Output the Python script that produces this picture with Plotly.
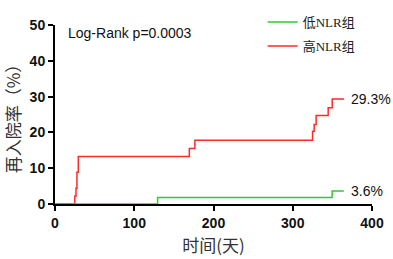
import plotly.graph_objects as go

# Data
red_t = [0, 25.0, 26.5, 27.7, 29.4, 169.5, 176.5, 325.0, 327.0, 329.5, 344.7, 349.8, 364.8]
red_v = [0, 2.2, 4.4, 8.9, 13.3, 15.5, 17.8, 20.3, 22.2, 24.7, 26.9, 29.3, 29.3]
green_t = [0, 129.5, 349.7, 364.5]
green_v = [0, 1.8, 3.6, 3.6]
names = ["低NLR组", "高NLR组"]
end_labels = ["3.6%", "29.3%"]
x_ticks = [0, 100, 200, 300, 400]
y_ticks = [0, 10, 20, 30, 40, 50]

RED = "#ff2a2a"
GREEN = "#2ecc2e"

fig = go.Figure()
fig.add_trace(go.Scatter(x=red_t, y=red_v, mode="lines", line=dict(color=RED, width=1.5, shape="hv"),
                         name=names[1], legendrank=2, legendgroup="b", cliponaxis=False))
fig.add_trace(go.Scatter(x=green_t, y=green_v, mode="lines", line=dict(color=GREEN, width=1.5, shape="hv"),
                         name=names[0], legendrank=1, legendgroup="a", cliponaxis=False))

for t, v, lab in [(green_t[-1], green_v[-1], end_labels[0]), (red_t[-1], red_v[-1], end_labels[1])]:
    fig.add_annotation(x=t, y=v, text=lab, showarrow=False, xanchor="left", yanchor="middle",
                       xshift=5, font=dict(family="Liberation Sans, Arial", size=14, color="#111"))

fig.add_annotation(x=0.0355, y=0.956, xref="paper", yref="paper", text="Log-Rank p=0.0003",
                   showarrow=False, xanchor="left", yanchor="middle",
                   font=dict(family="Liberation Sans, Arial", size=14, color="#111"))

tickfont = dict(family="Liberation Sans, Arial", size=14, color="#111", weight="bold")
fig.update_layout(
    width=393, height=259,
    margin=dict(l=55, r=21, t=7, b=55),
    plot_bgcolor="white", paper_bgcolor="white",
    showlegend=True,
    legend=dict(x=0.655, y=1.10, xanchor="left", yanchor="top", bgcolor="rgba(0,0,0,0)",
                font=dict(family="Liberation Serif, Noto Sans CJK SC", size=13, color="#222"),
                tracegroupgap=4),
    xaxis=dict(range=[0, 400], tickvals=x_ticks, showgrid=False, zeroline=False,
               showline=True, linecolor="black", linewidth=2, ticks="outside", ticklen=5,
               tickwidth=2, tickcolor="black", tickfont=tickfont, layer="below traces",
               title=dict(text="时间(天)", standoff=10,
                          font=dict(family="Noto Sans CJK SC", size=17, color="#333"))),
    yaxis=dict(range=[0, 50], tickvals=y_ticks, showgrid=False, zeroline=False,
               showline=True, linecolor="black", linewidth=2, ticks="outside", ticklen=5,
               tickwidth=2, tickcolor="black", tickfont=tickfont, layer="below traces",
               title=dict(text="再入院率（%）", standoff=5,
                          font=dict(family="Noto Sans CJK SC", size=17, color="#333"))),
)

fig.write_html("out.html", post_script="document.body.style.margin='0';",
               config={"displayModeBar": False})
